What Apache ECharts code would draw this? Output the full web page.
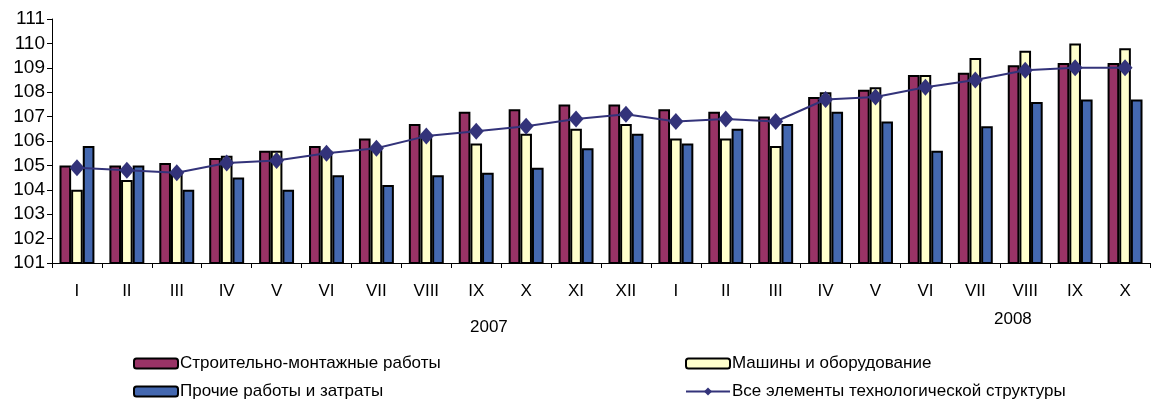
<!DOCTYPE html>
<html>
<head>
<meta charset="utf-8">
<script src="https://cdn.jsdelivr.net/npm/echarts@6/dist/echarts.min.js"></script>
<style>
  html, body { margin: 0; padding: 0; background: #fff; }
  #chart { width: 1155px; height: 401px; }
</style>
</head>
<body>
<div id="chart"></div>
<script>
// Months, 2007 (I–XII) and 2008 (I–X)
const months = ['I','II','III','IV','V','VI','VII','VIII','IX','X','XI','XII',
                'I','II','III','IV','V','VI','VII','VIII','IX','X'];

const construction = [105.0,105.0,105.1,105.3,105.6,105.8,106.1,106.7,107.2,107.3,107.5,107.5,
                      107.3,107.2,107.0,107.8,108.1,108.7,108.8,109.1,109.2,109.2];
const machinery    = [104.0,104.4,104.7,105.4,105.6,105.6,105.7,106.2,105.9,106.3,106.5,106.7,
                      106.1,106.1,105.8,108.0,108.2,108.7,109.4,109.7,110.0,109.8];
const otherWorks   = [105.8,105.0,104.0,104.5,104.0,104.6,104.2,104.6,104.7,104.9,105.7,106.3,
                      105.9,106.5,106.7,107.2,106.8,105.6,106.6,107.6,107.7,107.7];
const allElements  = [104.9,104.8,104.7,105.1,105.2,105.5,105.7,106.2,106.4,106.6,106.9,107.1,
                      106.8,106.9,106.8,107.7,107.8,108.2,108.5,108.9,109.0,109.0];

const seriesNames = ['Строительно-монтажные работы', 'Машины и оборудование',
                     'Прочие работы и затраты', 'Все элементы технологической структуры'];
const years = ['2007', '2008'];

const FONT = 'Liberation Sans, Arial, sans-serif';
const chart = echarts.init(document.getElementById('chart'), null, { renderer: 'canvas' });

function barSeries(name, data, color) {
  return {
    name: name,
    type: 'bar',
    data: data,
    barGap: '0%',
    barCategoryGap: '30%',
    itemStyle: { color: color, borderColor: '#000', borderWidth: 2 },
    animation: false
  };
}

function legendAt(name, left, top) {
  return {
    data: [name],
    left: left,
    top: top,
    itemWidth: 44,
    itemHeight: 10,
    itemGap: 4,
    textStyle: { fontFamily: FONT, fontSize: 17, color: '#000', padding: [0, 0, 0, -3] },
    selectedMode: false
  };
}

chart.setOption({
  animation: false,
  backgroundColor: '#fff',
  grid: { left: 52, right: 5, top: 19, bottom: 138 },
  xAxis: {
    type: 'category',
    data: months,
    boundaryGap: true,
    axisLine: { lineStyle: { color: '#000', width: 1 } },
    axisTick: { show: true, length: 5, lineStyle: { color: '#000' } },
    axisLabel: { color: '#000', fontFamily: FONT, fontSize: 17, margin: 20 }
  },
  yAxis: {
    type: 'value',
    min: 101,
    max: 111,
    interval: 1,
    axisLine: { show: true, lineStyle: { color: '#000', width: 1 } },
    axisTick: { show: true, length: 5, lineStyle: { color: '#000' } },
    axisLabel: { color: '#000', fontFamily: FONT, fontSize: 19, margin: 7 },
    splitLine: { show: false }
  },
  legend: [
    legendAt(seriesNames[0], 128, 350),
    legendAt(seriesNames[1], 680, 350),
    legendAt(seriesNames[2], 128, 378),
    legendAt(seriesNames[3], 680, 378)
  ],
  series: [
    barSeries(seriesNames[0], construction, '#993366'),
    barSeries(seriesNames[1], machinery, '#FFFFCC'),
    barSeries(seriesNames[2], otherWorks, '#4468B0'),
    {
      name: seriesNames[3],
      type: 'line',
      data: allElements,
      symbol: 'diamond',
      symbolSize: [15, 17],
      itemStyle: { color: '#33337A' },
      lineStyle: { color: '#33337A', width: 2 },
      z: 5
    }
  ],
  graphic: [
    { type: 'text', left: 470, top: 319,
      style: { text: years[0], fontFamily: FONT, fontSize: 17, fill: '#000' } },
    { type: 'text', left: 994, top: 311,
      style: { text: years[1], fontFamily: FONT, fontSize: 17, fill: '#000' } }
  ]
});
</script>
</body>
</html>
